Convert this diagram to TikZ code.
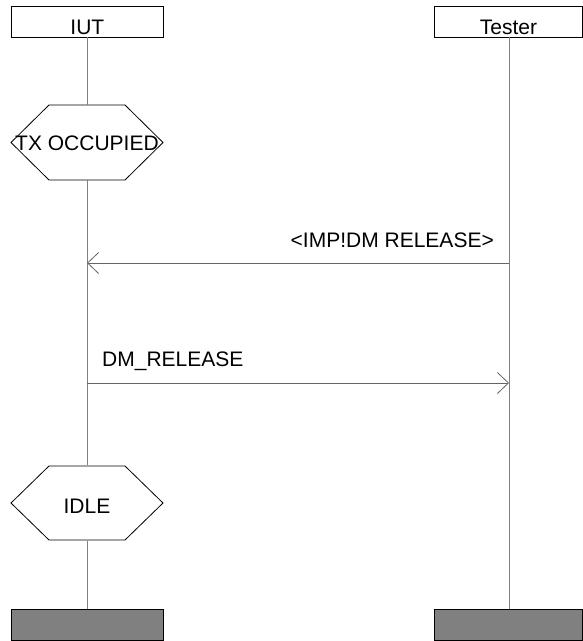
\documentclass[tikz,border=0pt]{standalone}
\usepackage{fontspec}
\setmainfont{Liberation Sans}
\usetikzlibrary{arrows.meta}
\begin{document}
\begin{tikzpicture}[x=1pt,y=-1pt,
  every node/.style={font=\fontsize{21}{25}\selectfont, inner sep=0pt},
  head/.style={draw=black, line width=0.8pt, minimum width=152pt, minimum height=31pt, anchor=north west},
  foot/.style={draw=black, fill=gray, line width=0.8pt, minimum width=152pt, minimum height=31pt, anchor=north west},
  life/.style={draw=gray, line width=0.9pt},
  msg/.style={draw=black!60, line width=0.9pt, -{Straight Barb[length=11pt,width=21pt,line width=0.8pt]}},
  hexbox/.style={minimum width=152pt, minimum height=75pt},
  hexline/.style={draw=black, line width=0.8pt}
]
\useasboundingbox (0,0) rectangle (582,641);
% heads
\node[head] (iut) at (11,6) {};
\node[anchor=base] at ([yshift=-13pt]iut.center) {IUT};
\node[head, minimum width=148pt] (tester) at (434,6) {};
\node[anchor=base] at ([yshift=-13pt]tester.center) {Tester};
% feet
\node[foot] (iutend) at (11,609) {};
\node[foot, minimum width=148pt] (testerend) at (434,609) {};
% hexagons
\node[hexbox] (occ) at (87,142.5) {};
\draw[hexline] (11,142.5) -- (49,105) -- (125,105) -- (163,142.5) -- (125,180) -- (49,180) -- cycle;
\node[anchor=base] at (87,150.5) {TX OCCUPIED};
\node[hexbox] (idle) at (87,503) {};
\draw[hexline] (11,503) -- (49,466) -- (125,466) -- (163,503) -- (125,540) -- (49,540) -- cycle;
\node[anchor=base] at (87,513) {IDLE};
% lifelines
\draw[life] (87,37) coordinate (a0) -- (occ.north);
\draw[life] (occ.south) -- (idle.north);
\draw[life] (idle.south) -- (87,609);
\draw[life] (509,37) -- (509,609);
% messages
\coordinate (t1) at (509,263);
\coordinate (i1) at (87,263);
\coordinate (i2) at (87,383);
\coordinate (t2) at (509,383);
\draw[msg] (t1) -- (i1);
\node[anchor=base east] at (494,247) {<IMP!DM RELEASE>};
\draw[msg] (i2) -- (t2);
\node[anchor=base west] at (102,366) {DM\_RELEASE};
\end{tikzpicture}
\end{document}
